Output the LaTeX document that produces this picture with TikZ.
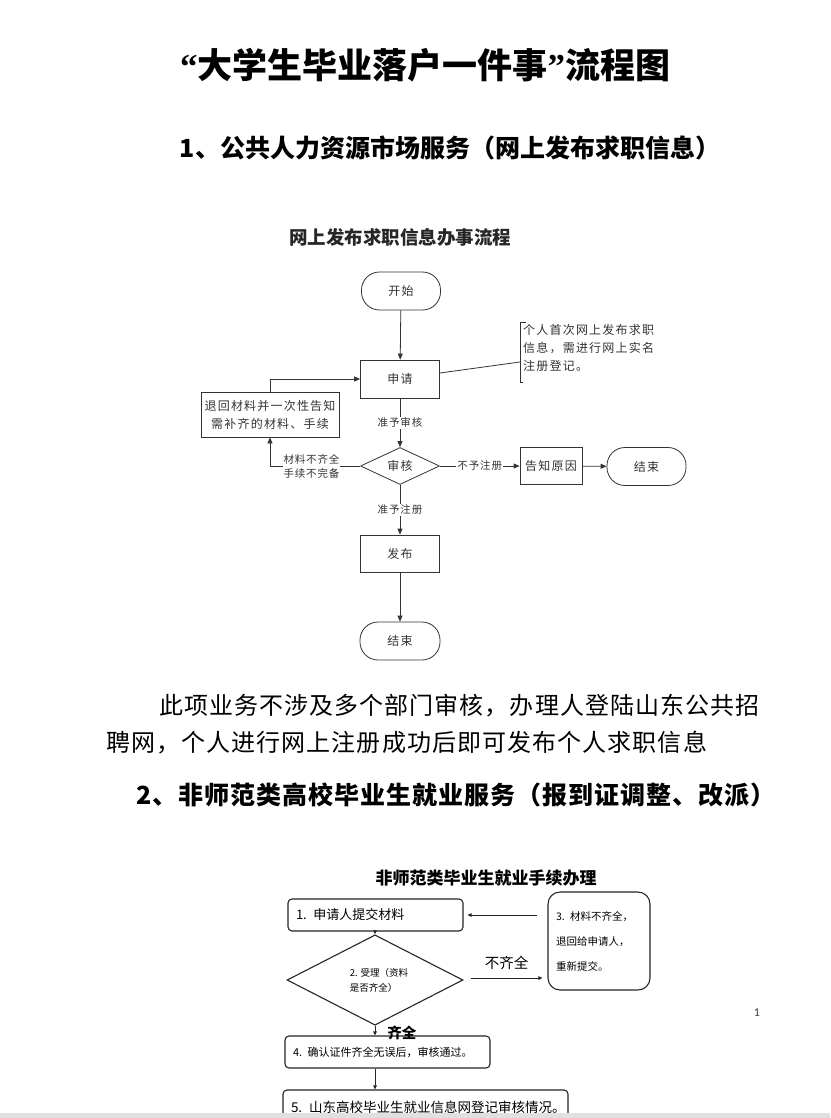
\documentclass[tikz,border=0pt]{standalone}
\usepackage{fontspec}
\setmainfont{Noto Sans CJK SC}
\newfontfamily\latinfont{Carlito}
\newfontfamily\quotefont{Liberation Serif}
\usetikzlibrary{shapes.geometric,arrows.meta,calc}
\newcommand{\fsA}{\fontsize{12}{18}\selectfont\addfontfeature{LetterSpace=10}}
\newcommand{\fsL}{\fontsize{10.5}{14}\selectfont\addfontfeature{LetterSpace=8}}
\begin{document}
\begin{tikzpicture}[x=1pt,y=-1pt,
  line/.style={draw=black!80, line width=0.8pt},
  arr/.style={line, -{Triangle[length=6pt,width=5pt]}},
  arrtwo/.style={draw=black!85, line width=0.9pt, -{Triangle[length=4pt,width=3.5pt]}},
  pbox/.style={draw=black!80, line width=0.8pt, minimum width=79pt, minimum height=38pt, inner sep=0pt, font=\fsA, text=black!80, align=center},
  term/.style={pbox, rounded corners=18pt},
  dia/.style={diamond, draw=black!80, line width=0.8pt, inner sep=0pt, font=\fsA, text=black!80, minimum width=79pt, minimum height=37pt},
  lbl/.style={fill=white, font=\fsL, text=black!80, inner sep=1pt, align=center},
  rbox/.style={draw=black!85, line width=1.1pt, rounded corners=4pt, inner xsep=8pt, inner ysep=0pt, align=left},
  hd/.style={font=\fontsize{25}{30}\selectfont\bfseries, inner sep=0pt},
  para/.style={font=\fontsize{24}{30}\selectfont, inner sep=0pt, anchor=west}
]
\useasboundingbox (0,0) rectangle (830,1118);
\fill[white] (0,0) rectangle (830,1118);

% titles
\node[font=\fontsize{35}{40}\selectfont\bfseries, inner sep=0pt] (title) at (425,65) {{\quotefont “}大学生毕业落户一件事{\quotefont ”}流程图};
\node[hd] (sec1) at (450,148) {1、公共人力资源市场服务（网上发布求职信息）};
\node[font=\fontsize{18.5}{22}\selectfont\bfseries, text=black!85, inner sep=0pt] (ft1) at (400,237) {网上发布求职信息办事流程};

% flow 1
\node[term] (start) at (401,291) {开始};
\node[pbox] (apply) at (400,379) {申请};
\node[pbox, minimum width=138pt, minimum height=45pt] (ret) at (270,414.5) {退回材料并一次性告知\\需补齐的材料、手续};
\node[dia] (review) at (400,466) {审核};
\node[pbox, minimum width=62pt, minimum height=37pt] (inform) at (551,466) {告知原因};
\node[term, minimum width=79pt] (endA) at (646.5,466.5) {结束};
\node[pbox, minimum height=37pt] (publish) at (400,553.5) {发布};
\node[term, minimum width=80pt] (endB) at (400,641) {结束};
\node[font=\fsA, text=black!80, align=left, anchor=west, inner sep=0pt] (note) at (523,348) {个人首次网上发布求职\\信息，需进行网上实名\\注册登记。};
\coordinate (noteb) at (520,362);
\draw[line] (526,322) -- (520,322) -- (520,382) -- (523,382);

\draw[arr] (start) -- (apply);
\draw[line] ([yshift=6pt]apply.east) -- (noteb);
\draw[arr] (ret.north) |- (apply.west);
\draw[arr] (apply) -- node[lbl]{准予审核} (review);
\draw[arr] (review.west) -| node[lbl, pos=0.27]{材料不齐全\\手续不完备} (ret.south);
\draw[arr] (review) -- node[lbl]{不予注册} (inform);
\draw[arr] (inform) -- (endA);
\draw[arr] (review) -- node[lbl]{准予注册} (publish);
\draw[arr] (publish) -- (endB);

% paragraph
\node[para] (p1) at (159,706) {\addfontfeature{LetterSpace=4.4}此项业务不涉及多个部门审核，办理人登陆山东公共招};
\node[para] (p2) at (106,743) {\addfontfeature{LetterSpace=4.5}聘网，个人进行网上注册成功后即可发布个人求职信息};
\node[hd] (sec2) at (456,795) {\addfontfeature{LetterSpace=4}2、非师范类高校毕业生就业服务（报到证调整、改派）};

% flow 2
\node[font=\fontsize{17}{20}\selectfont\bfseries, inner sep=0pt] (ft2) at (486,878) {非师范类毕业生就业手续办理};
\node[rbox, text width=159pt, minimum height=32pt, font=\fontsize{13}{16}\selectfont] (b1) at (375.5,915) {1. 申请人提交材料};
\node[rbox, rounded corners=12pt, text width=86pt, minimum height=98pt, font=\fontsize{10.5}{25}\selectfont] (b3) at (599,941) {3. 材料不齐全，\\退回给申请人，\\重新提交。};
\node[diamond, draw=black!85, line width=1.1pt, minimum width=176pt, minimum height=66pt, inner sep=0pt, font=\fontsize{9.5}{15}\selectfont, align=left] (d2) at (375,980) {\hspace*{8pt}2. 受理（资料\\\hspace*{8pt}是否齐全）};
\node[rbox, text width=189pt, minimum height=32pt, font=\fontsize{11}{14}\selectfont] (b4) at (387.5,1052) {4. 确认证件齐全无误后，审核通过。};
\begin{scope}
\clip (0,0) rectangle (830,1113);
\node[rbox, text width=269pt, minimum height=34pt, font=\fontsize{13.5}{16}\selectfont] (b5) at (425.5,1107) {5. 山东高校毕业生就业信息网登记审核情况。};
\end{scope}

\draw[arrtwo] ($(b3.west |- b1.east)+(-10,0)$) -- ($(b1.east)+(4,0)$);
\draw[arrtwo] (b1.south -| d2.north) -- (d2.north);
\draw[arrtwo] ($(d2.east)+(7,-2)$) -- node[anchor=south, yshift=8pt, font=\fontsize{14.5}{16}\selectfont, inner sep=0pt]{不齐全} ($(b3.west |- d2.east)+(-5,-2)$);
\draw[arrtwo] (d2.south) -- node[pos=0.72, anchor=west, xshift=12pt, font=\fontsize{14.5}{16}\selectfont\bfseries, inner sep=0pt]{齐全} (d2.south |- b4.north);
\draw[arrtwo] (d2.south |- b4.south) -- (d2.south |- b5.north);

% page number and bottom band
\node[font=\latinfont\fontsize{12}{14}\selectfont, text=black!75, inner sep=0pt] (pg) at (757,1013) {1};
\fill[black!12] (0,1113) rectangle (830,1118);
\end{tikzpicture}
\end{document}
